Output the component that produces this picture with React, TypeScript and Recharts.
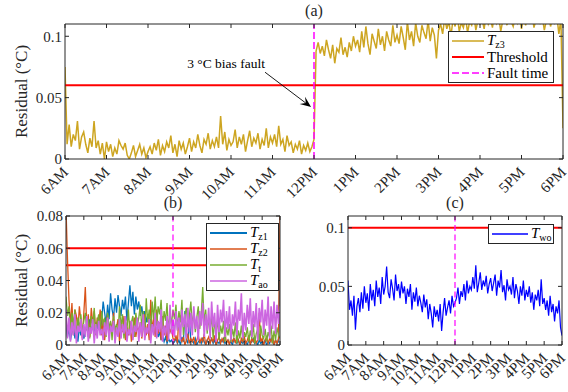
import {
  LineChart,
  Line,
  XAxis,
  YAxis,
  ReferenceLine,
  ReferenceDot,
  Legend,
} from "recharts";

const FONT = "Liberation Serif, DejaVu Serif, serif";
const INK = "#262626";

const HOUR_TICKS = [6, 7, 8, 9, 10, 11, 12, 13, 14, 15, 16, 17, 18];
const HOUR_LABELS = [
  "6AM", "7AM", "8AM", "9AM", "10AM", "11AM", "12PM",
  "1PM", "2PM", "3PM", "4PM", "5PM", "6PM",
];
const FAULT_HOUR = 12;

// (a) zone 3 residual, 3-minute samples from 6AM to 6PM
const TZ3 = [
  0.075, 0.012, 0.028, 0.010, 0.020, 0.015, 0.031, 0.008, 0.018, 0.022, 0.012, 0.005, 0.017, 0.010, 0.031, 0.009, 0.015, 0.004, 0.013, 0.000, 0.014,
  0.006, 0.012, 0.002, 0.009, 0.004, 0.015, 0.011, 0.008, 0.013, 0.003, 0.000, 0.005, 0.011, 0.002, 0.007, 0.012, 0.004, 0.009, 0.001, 0.006,
  0.010, 0.004, 0.013, 0.007, 0.016, 0.003, 0.011, 0.006, 0.014, 0.009, 0.019, 0.005, 0.012, 0.002, 0.015, 0.008, 0.013, 0.004, 0.010, 0.017,
  0.006, 0.014, 0.009, 0.020, 0.011, 0.005, 0.016, 0.012, 0.021, 0.008, 0.015, 0.010, 0.018, 0.009, 0.035, 0.012, 0.022, 0.007, 0.016, 0.011,
  0.014, 0.024, 0.009, 0.018, 0.012, 0.020, 0.006, 0.015, 0.023, 0.010, 0.017, 0.013, 0.021, 0.008, 0.016, 0.011, 0.025, 0.009, 0.018, 0.013,
  0.020, 0.010, 0.027, 0.012, 0.016, 0.006, 0.019, 0.011, 0.014, 0.005, 0.012, 0.008, 0.015, 0.004, 0.011, 0.007, 0.013, 0.006, 0.010, 0.016,
  0.088, 0.095, 0.086, 0.092, 0.084, 0.097, 0.089, 0.082, 0.093, 0.078, 0.090, 0.087, 0.099, 0.085, 0.091, 0.083, 0.095, 0.088, 0.100, 0.092,
  0.097, 0.087, 0.104, 0.091, 0.108, 0.094, 0.085, 0.102, 0.096, 0.090, 0.106, 0.093, 0.100, 0.088, 0.104, 0.097, 0.092, 0.109, 0.095, 0.101,
  0.094, 0.108, 0.099, 0.089, 0.112, 0.097, 0.104, 0.092, 0.111, 0.100, 0.095, 0.109, 0.103, 0.098, 0.113, 0.096, 0.107, 0.101, 0.082, 0.105,
  0.110, 0.102, 0.115, 0.106, 0.112, 0.100, 0.114, 0.108, 0.118, 0.104, 0.111, 0.107, 0.116, 0.103, 0.112, 0.109, 0.117, 0.105, 0.113, 0.110,
  0.114, 0.106, 0.118, 0.110, 0.115, 0.107, 0.120, 0.111, 0.116, 0.104, 0.113, 0.117, 0.109, 0.119, 0.112, 0.108, 0.116, 0.111, 0.118, 0.106,
  0.115, 0.109, 0.117, 0.112, 0.120, 0.107, 0.114, 0.118, 0.110, 0.116, 0.105, 0.113, 0.119, 0.108, 0.115, 0.111, 0.117, 0.102, 0.114, 0.025,
];
const TZ3_THRESHOLD = 0.06;
const ANNOT_TEXT_AT = { x: 9.88, y: 0.078 };
const ANNOT_ARROW = [
  { x: 10.82, y: 0.0707 },
  { x: 11.93, y: 0.0423 },
];

// (b) other sensors, 5-minute samples
const TZ1 = [
  0.012, 0.005, 0.01, 0.003, 0.008, 0.012, 0.004, 0.009, 0.002, 0.011, 0.006, 0.01, 0.004,
  0.008, 0.013, 0.005, 0.016, 0.009, 0.012, 0.006, 0.014, 0.01, 0.018, 0.008, 0.015,
  0.027, 0.02, 0.013, 0.025, 0.016, 0.032, 0.022, 0.017, 0.029, 0.02, 0.031, 0.024,
  0.018, 0.028, 0.022, 0.03, 0.015, 0.026, 0.037, 0.024, 0.033, 0.019, 0.03, 0.022,
  0.027, 0.018, 0.024, 0.016, 0.021, 0.014, 0.019, 0.012, 0.016, 0.009, 0.013, 0.007,
  0.01, 0.005, 0.008, 0.003, 0.006, 0.002, 0.005, 0.001, 0.004, 0.002, 0.003, 0.001,
  0.002, 0.004, 0.001, 0.003, 0, 0.005, 0.002, 0.021, 0.003, 0.001, 0.018, 0.002,
  0.003, 0.001, 0.004, 0, 0.002, 0.003, 0.001, 0.004, 0.002, 0, 0.003, 0.001,
  0.002, 0.004, 0.001, 0.003, 0, 0.002, 0.001, 0.003, 0.002, 0.004, 0.001, 0.002,
  0.003, 0.001, 0.002, 0, 0.004, 0.002, 0.001, 0.003, 0, 0.002, 0.001, 0.003,
  0.002, 0, 0.003, 0.001, 0.002, 0.004, 0.001, 0.002, 0, 0.003, 0.001, 0.002,
  0.001, 0.003, 0, 0.002, 0.001, 0.004, 0.002, 0, 0.003, 0.001, 0.002, 0.058,
];
const TZ2 = [
  0.085, 0.053, 0.028, 0.012, 0.026, 0.006, 0.022, 0.018, 0.009, 0.024, 0.015, 0.004, 0.02,
  0.036, 0.01, 0.019, 0.005, 0.023, 0.013, 0.021, 0.007, 0.017, 0.012, 0.022, 0.006,
  0.016, 0.003, 0.012, 0.019, 0.005, 0.014, 0.009, 0.02, 0.004, 0.011, 0.016, 0.002,
  0.013, 0.008, 0.018, 0.003, 0.011, 0.006, 0.015, 0.002, 0.01, 0.017, 0.005, 0.012,
  0.008, 0.014, 0.004, 0.011, 0.019, 0.006, 0.013, 0.003, 0.028, 0.009, 0.016, 0.005,
  0.022, 0.007, 0.014, 0.003, 0.018, 0.006, 0.012, 0.002, 0.015, 0.008, 0.01, 0.004,
  0.003, 0.006, 0.001, 0.02, 0.004, 0.002, 0.005, 0, 0.003, 0.007, 0.001, 0.004,
  0.002, 0.005, 0, 0.003, 0.006, 0.001, 0.004, 0.002, 0.007, 0, 0.003, 0.005,
  0.001, 0.004, 0.002, 0.006, 0, 0.003, 0.005, 0.001, 0.004, 0.002, 0.007, 0.001,
  0.003, 0, 0.005, 0.002, 0.004, 0.001, 0.006, 0.003, 0, 0.004, 0.002, 0.005,
  0.001, 0.003, 0.006, 0, 0.004, 0.002, 0.005, 0.001, 0.003, 0.02, 0.002, 0.004,
  0, 0.003, 0.005, 0.001, 0.004, 0.002, 0.006, 0, 0.003, 0.001, 0.004, 0.085,
];
const TT = [
  0.03, 0.018, 0.024, 0.008, 0.02, 0.012, 0.022, 0.005, 0.017, 0.01, 0.019, 0.007, 0.015,
  0.02, 0.009, 0.016, 0.004, 0.018, 0.011, 0.023, 0.006, 0.014, 0.019, 0.008, 0.021,
  0.012, 0.017, 0.005, 0.02, 0.01, 0.015, 0.003, 0.018, 0.009, 0.013, 0.006, 0.024,
  0.011, 0.019, 0.004, 0.016, 0.009, 0.022, 0.007, 0.014, 0.018, 0.005, 0.02, 0.012,
  0.017, 0.025, 0.01, 0.021, 0.006, 0.029, 0.014, 0.022, 0.008, 0.027, 0.016, 0.03,
  0.012, 0.024, 0.019, 0.028, 0.01, 0.021, 0.015, 0.026, 0.007, 0.02, 0.013, 0.022,
  0.016, 0.025, 0.009, 0.021, 0.014, 0.028, 0.006, 0.019, 0.023, 0.011, 0.018, 0.027,
  0.012, 0.02, 0.008, 0.017, 0.024, 0.01, 0.019, 0.036, 0.013, 0.022, 0.007, 0.016,
  0.01, 0.018, 0.004, 0.014, 0.008, 0.016, 0.003, 0.012, 0.007, 0.015, 0.002, 0.011,
  0.006, 0.013, 0.002, 0.01, 0.005, 0.014, 0.001, 0.009, 0.004, 0.012, 0.003, 0.008,
  0.005, 0.011, 0.002, 0.009, 0.004, 0.013, 0.001, 0.007, 0.01, 0.003, 0.012, 0.006,
  0.004, 0.01, 0.002, 0.008, 0.005, 0.012, 0.001, 0.009, 0.003, 0.011, 0.006, 0.004,
];
const TAO = [
  0.022, 0.004, 0.017, 0.002, 0.014, 0.006, 0.019, 0.001, 0.012, 0.008, 0.016, 0.003, 0.013,
  0.005, 0.018, 0.002, 0.011, 0.007, 0.016, 0.001, 0.013, 0.004, 0.015, 0.006, 0.01,
  0.003, 0.014, 0.006, 0.017, 0.002, 0.012, 0.008, 0.015, 0.001, 0.011, 0.005, 0.016,
  0.004, 0.013, 0.007, 0.018, 0.002, 0.01, 0.006, 0.015, 0.003, 0.012, 0.008, 0.017,
  0.002, 0.014, 0.005, 0.019, 0.003, 0.011, 0.007, 0.016, 0.001, 0.013, 0.006, 0.02,
  0.004, 0.015, 0.008, 0.022, 0.002, 0.012, 0.006, 0.018, 0.003, 0.025, 0.007, 0.016,
  0.005, 0.021, 0.009, 0.017, 0.003, 0.022, 0.011, 0.019, 0.004, 0.023, 0.008, 0.02,
  0.006, 0.024, 0.01, 0.018, 0.003, 0.021, 0.012, 0.026, 0.005, 0.019, 0.009, 0.023,
  0.004, 0.027, 0.011, 0.02, 0.002, 0.025, 0.008, 0.022, 0.014, 0.028, 0.005, 0.021,
  0.01, 0.024, 0.003, 0.019, 0.012, 0.027, 0.006, 0.022, 0.015, 0.032, 0.004, 0.02,
  0.009, 0.025, 0.013, 0.029, 0.005, 0.021, 0.011, 0.026, 0.003, 0.023, 0.014, 0.028,
  0.006, 0.022, 0.012, 0.03, 0.004, 0.024, 0.01, 0.027, 0.007, 0.025, 0.013, 0.024,
];
const B_THRESHOLDS = [0.06, 0.0495];

// (c) water outlet residual, 5-minute samples
const TWO = [
  0.055, 0.03, 0.038, 0.025, 0.042, 0.013, 0.033, 0.04, 0.028, 0.045, 0.031, 0.05, 0.036,
  0.044, 0.029, 0.052, 0.038, 0.047, 0.033, 0.055, 0.041, 0.049, 0.035, 0.058, 0.043,
  0.05, 0.067, 0.045, 0.04, 0.056, 0.048, 0.038, 0.06, 0.046, 0.052, 0.04, 0.054,
  0.044, 0.05, 0.035, 0.048, 0.041, 0.052, 0.03, 0.045, 0.037, 0.049, 0.033, 0.042,
  0.036, 0.028, 0.043, 0.032, 0.039, 0.022, 0.035, 0.027, 0.015, 0.033, 0.024, 0.03,
  0.02, 0.035, 0.012, 0.028, 0.04, 0.025, 0.032, 0.038, 0.027, 0.042, 0.033, 0.036,
  0.04, 0.049, 0.035, 0.046, 0.041, 0.052, 0.038, 0.055, 0.044, 0.05, 0.047, 0.058,
  0.048, 0.068, 0.045, 0.053, 0.062, 0.047, 0.055, 0.05, 0.059, 0.044, 0.052, 0.057,
  0.046, 0.053, 0.06, 0.042, 0.055, 0.049, 0.064, 0.045, 0.051, 0.038, 0.056, 0.047,
  0.05, 0.043, 0.058, 0.04, 0.052, 0.046, 0.035, 0.05, 0.042, 0.055, 0.038, 0.047,
  0.041, 0.05, 0.036, 0.045, 0.03, 0.043, 0.038, 0.047, 0.033, 0.056, 0.035, 0.04,
  0.03, 0.038, 0.025, 0.042, 0.028, 0.035, 0.02, 0.033, 0.027, 0.038, 0.015, 0.008,
];
const TWO_THRESHOLD = 0.1;

const dataA = TZ3.map((v, i) => ({ t: 6 + i / 20, tz3: v }));
const dataB = TZ1.map((v, i) => ({
  t: 6 + i / 12,
  tz1: v,
  tz2: TZ2[i],
  tt: TT[i],
  tao: TAO[i],
}));
const dataC = TWO.map((v, i) => ({ t: 6 + i / 12, two: v }));

function AngledTick(props: any) {
  const { x, y, payload } = props;
  const label = HOUR_LABELS[HOUR_TICKS.indexOf(payload.value)];
  const ax = x + 4;
  return (
    <text
      x={ax}
      y={y}
      textAnchor="end"
      transform={`rotate(-45 ${ax} ${y})`}
      fontSize={15}
      fontFamily={FONT}
      fill={INK}
    >
      {label}
    </text>
  );
}

const yLabel = (props: any) => {
  const vb = props.viewBox;
  const x = vb.x + 21;
  const y = vb.y + vb.height / 2;
  return (
    <text
      x={x}
      y={y}
      transform={`rotate(-90 ${x} ${y})`}
      textAnchor="middle"
      dominantBaseline="central"
      fontSize={17}
      fontFamily={FONT}
      fill={INK}
    >
      Residual (°C)
    </text>
  );
};

function ArrowShape(p: any) {
  const { x1, y1, x2, y2 } = p;
  const a = Math.atan2(y2 - y1, x2 - x1);
  const c = Math.cos(a);
  const s = Math.sin(a);
  const L = 11;
  const W = 4.5;
  const bx = x2 - L * c;
  const by = y2 - L * s;
  const nx = x2 - L * 0.6 * c;
  const ny = y2 - L * 0.6 * s;
  const pts = [
    [x2, y2],
    [bx - W * s, by + W * c],
    [nx, ny],
    [bx + W * s, by - W * c],
  ]
    .map((q) => q.join(","))
    .join(" ");
  return (
    <g>
      <line x1={x1} y1={y1} x2={nx} y2={ny} stroke="#000" strokeWidth={0.9} />
      <polygon points={pts} fill="#000" />
    </g>
  );
}

const Sym = ({ base, sub }: { base: string; sub: string }) => (
  <span>
    <i>{base}</i>
    <span style={{ fontSize: 10, position: "relative", top: 3 }}>{sub}</span>
  </span>
);

interface LegendItem {
  label: any;
  color: string;
  dash?: string;
  width?: number;
}

function LegendBox({ items, lineLen }: { items: LegendItem[]; lineLen: number }) {
  return (
    <div
      style={{
        boxSizing: "border-box",
        width: "100%",
        height: "100%",
        border: `1px solid ${INK}`,
        background: "#fff",
        fontFamily: FONT,
        fontSize: 15,
        color: "#000",
        padding: "0 3px",
        display: "flex",
        flexDirection: "column",
        justifyContent: "space-evenly",
      }}
    >
      {items.map((it, i) => (
        <div key={i} style={{ display: "flex", alignItems: "center", height: 15, lineHeight: "15px" }}>
          <svg width={lineLen} height={4} style={{ marginRight: 3, flexShrink: 0 }}>
            <line
              x1={0}
              y1={2}
              x2={lineLen}
              y2={2}
              stroke={it.color}
              strokeWidth={it.width ?? 1.5}
              strokeDasharray={it.dash}
            />
          </svg>
          <span style={{ whiteSpace: "nowrap" }}>{it.label}</span>
        </div>
      ))}
    </div>
  );
}

function frame(opts: {
  title: string;
  yTicks: number[];
  yMax: number;
  yWidth: number;
  xHeight: number;
  showYLabel: boolean;
  tickFont: number;
}) {
  const { title, yTicks, yMax, yWidth, xHeight, showYLabel, tickFont } = opts;
  return [
    <XAxis
      key="xb"
      dataKey="t"
      type="number"
      domain={[6, 18]}
      ticks={HOUR_TICKS}
      interval={0}
      allowDataOverflow
      height={xHeight}
      tickSize={-4}
      tickMargin={18}
      stroke={INK}
      tick={<AngledTick />}
    />,
    <XAxis
      key="xt"
      xAxisId="top"
      orientation="top"
      dataKey="t"
      type="number"
      domain={[6, 18]}
      ticks={HOUR_TICKS}
      interval={0}
      allowDataOverflow
      height={1}
      tickSize={-4}
      stroke={INK}
      tickFormatter={() => ""}
      label={{
        value: title,
        position: "top",
        offset: 7,
        fontSize: 16,
        fontFamily: FONT,
        fill: INK,
      }}
    />,
    <YAxis
      key="yl"
      type="number"
      domain={[0, yMax]}
      ticks={yTicks}
      interval={0}
      allowDataOverflow
      width={yWidth}
      tickSize={-4}
      tickMargin={7}
      stroke={INK}
      tick={{ fill: INK, fontSize: tickFont, fontFamily: FONT }}
      tickFormatter={(v: number) => String(v)}
      label={showYLabel ? yLabel : undefined}
    />,
    <YAxis
      key="yr"
      yAxisId="right"
      orientation="right"
      type="number"
      domain={[0, yMax]}
      ticks={yTicks}
      interval={0}
      allowDataOverflow
      width={1}
      tickSize={-4}
      stroke={INK}
      tickFormatter={() => ""}
    />,
  ];
}

function PanelA() {
  return (
    <LineChart width={568} height={215} data={dataA} margin={{ top: 23, right: 4, bottom: 0, left: 0 }}>
      {frame({ title: "(a)", yTicks: [0, 0.05, 0.1], yMax: 0.11, yWidth: 65, xHeight: 56, showYLabel: true, tickFont: 15 })}
      <Line type="linear" dataKey="tz3" stroke="#CDA521" strokeWidth={1.5} dot={false} activeDot={false} isAnimationActive={false} />
      <ReferenceLine y={TZ3_THRESHOLD} stroke="#FF0000" strokeWidth={2} />
      <ReferenceLine x={FAULT_HOUR} stroke="#FF00FF" strokeWidth={1.5} strokeDasharray="7 3" />
      <ReferenceLine segment={ANNOT_ARROW} shape={ArrowShape} ifOverflow="visible" />
      <ReferenceDot
        x={ANNOT_TEXT_AT.x}
        y={ANNOT_TEXT_AT.y}
        r={0}
        fill="none"
        stroke="none"
        label={{ value: "3 °C bias fault", position: "center", fontSize: 13.5, fontFamily: FONT, fill: "#000" }}
      />
      <Legend
        layout="horizontal"
        verticalAlign="middle"
        align="center"
        wrapperStyle={{ left: 448, top: 31, width: 106, height: 52 }}
        content={() => (
          <LegendBox
            lineLen={32}
            items={[
              { label: <Sym base="T" sub="z3" />, color: "#CDA521" },
              { label: "Threshold", color: "#FF0000", width: 2 },
              { label: "Fault time", color: "#FF00FF", dash: "7 3" },
            ]}
          />
        )}
      />
    </LineChart>
  );
}

function PanelB() {
  return (
    <LineChart width={290} height={197} data={dataB} margin={{ top: 20, right: 9, bottom: 0, left: 0 }}>
      {frame({ title: "(b)", yTicks: [0, 0.02, 0.04, 0.06, 0.08], yMax: 0.08, yWidth: 66, xHeight: 47, showYLabel: true, tickFont: 15 })}
      {B_THRESHOLDS.map((v) => (
        <ReferenceLine key={v} y={v} stroke="#FF0000" strokeWidth={2} />
      ))}
      <Line type="linear" dataKey="tz1" stroke="#0072BD" strokeWidth={1.3} dot={false} activeDot={false} isAnimationActive={false} />
      <Line type="linear" dataKey="tz2" stroke="#D95319" strokeWidth={1.3} dot={false} activeDot={false} isAnimationActive={false} />
      <Line type="linear" dataKey="tt" stroke="#77AC30" strokeWidth={1.3} dot={false} activeDot={false} isAnimationActive={false} />
      <Line type="linear" dataKey="tao" stroke="#CC66E0" strokeWidth={1.6} dot={false} activeDot={false} isAnimationActive={false} />
      <ReferenceLine x={FAULT_HOUR} stroke="#FF00FF" strokeWidth={1.2} strokeDasharray="6 3.5" />
      <Legend
        layout="horizontal"
        verticalAlign="middle"
        align="center"
        wrapperStyle={{ left: 206, top: 28, width: 73, height: 68 }}
        content={() => (
          <LegendBox
            lineLen={37}
            items={[
              { label: <Sym base="T" sub="z1" />, color: "#0072BD", width: 2 },
              { label: <Sym base="T" sub="z2" />, color: "#D95319" },
              { label: <Sym base="T" sub="t" />, color: "#77AC30" },
              { label: <Sym base="T" sub="ao" />, color: "#CC66E0" },
            ]}
          />
        )}
      />
    </LineChart>
  );
}

function PanelC() {
  return (
    <LineChart width={283} height={197} data={dataC} margin={{ top: 20, right: 5, bottom: 0, left: 0 }}>
      {frame({ title: "(c)", yTicks: [0, 0.05, 0.1], yMax: 0.11, yWidth: 63, xHeight: 47, showYLabel: false, tickFont: 15 })}
      <ReferenceLine y={TWO_THRESHOLD} stroke="#FF0000" strokeWidth={2} />
      <Line type="linear" dataKey="two" stroke="#0000FF" strokeWidth={1.2} dot={false} activeDot={false} isAnimationActive={false} />
      <ReferenceLine x={FAULT_HOUR} stroke="#FF00FF" strokeWidth={1.2} strokeDasharray="6 3.5" />
      <Legend
        layout="horizontal"
        verticalAlign="middle"
        align="center"
        wrapperStyle={{ left: 203, top: 29, width: 66, height: 20 }}
        content={() => (
          <LegendBox lineLen={36} items={[{ label: <Sym base="T" sub="wo" />, color: "#0000FF" }]} />
        )}
      />
    </LineChart>
  );
}

export default function App() {
  return (
    <div style={{ position: "absolute", left: 0, top: 0, width: 568, height: 392, background: "#fff" }}>
      <div style={{ position: "absolute", left: 0, top: 0 }}>
        <PanelA />
      </div>
      <div style={{ position: "absolute", left: 0, top: 195 }}>
        <PanelB />
      </div>
      <div style={{ position: "absolute", left: 285, top: 195 }}>
        <PanelC />
      </div>
    </div>
  );
}
